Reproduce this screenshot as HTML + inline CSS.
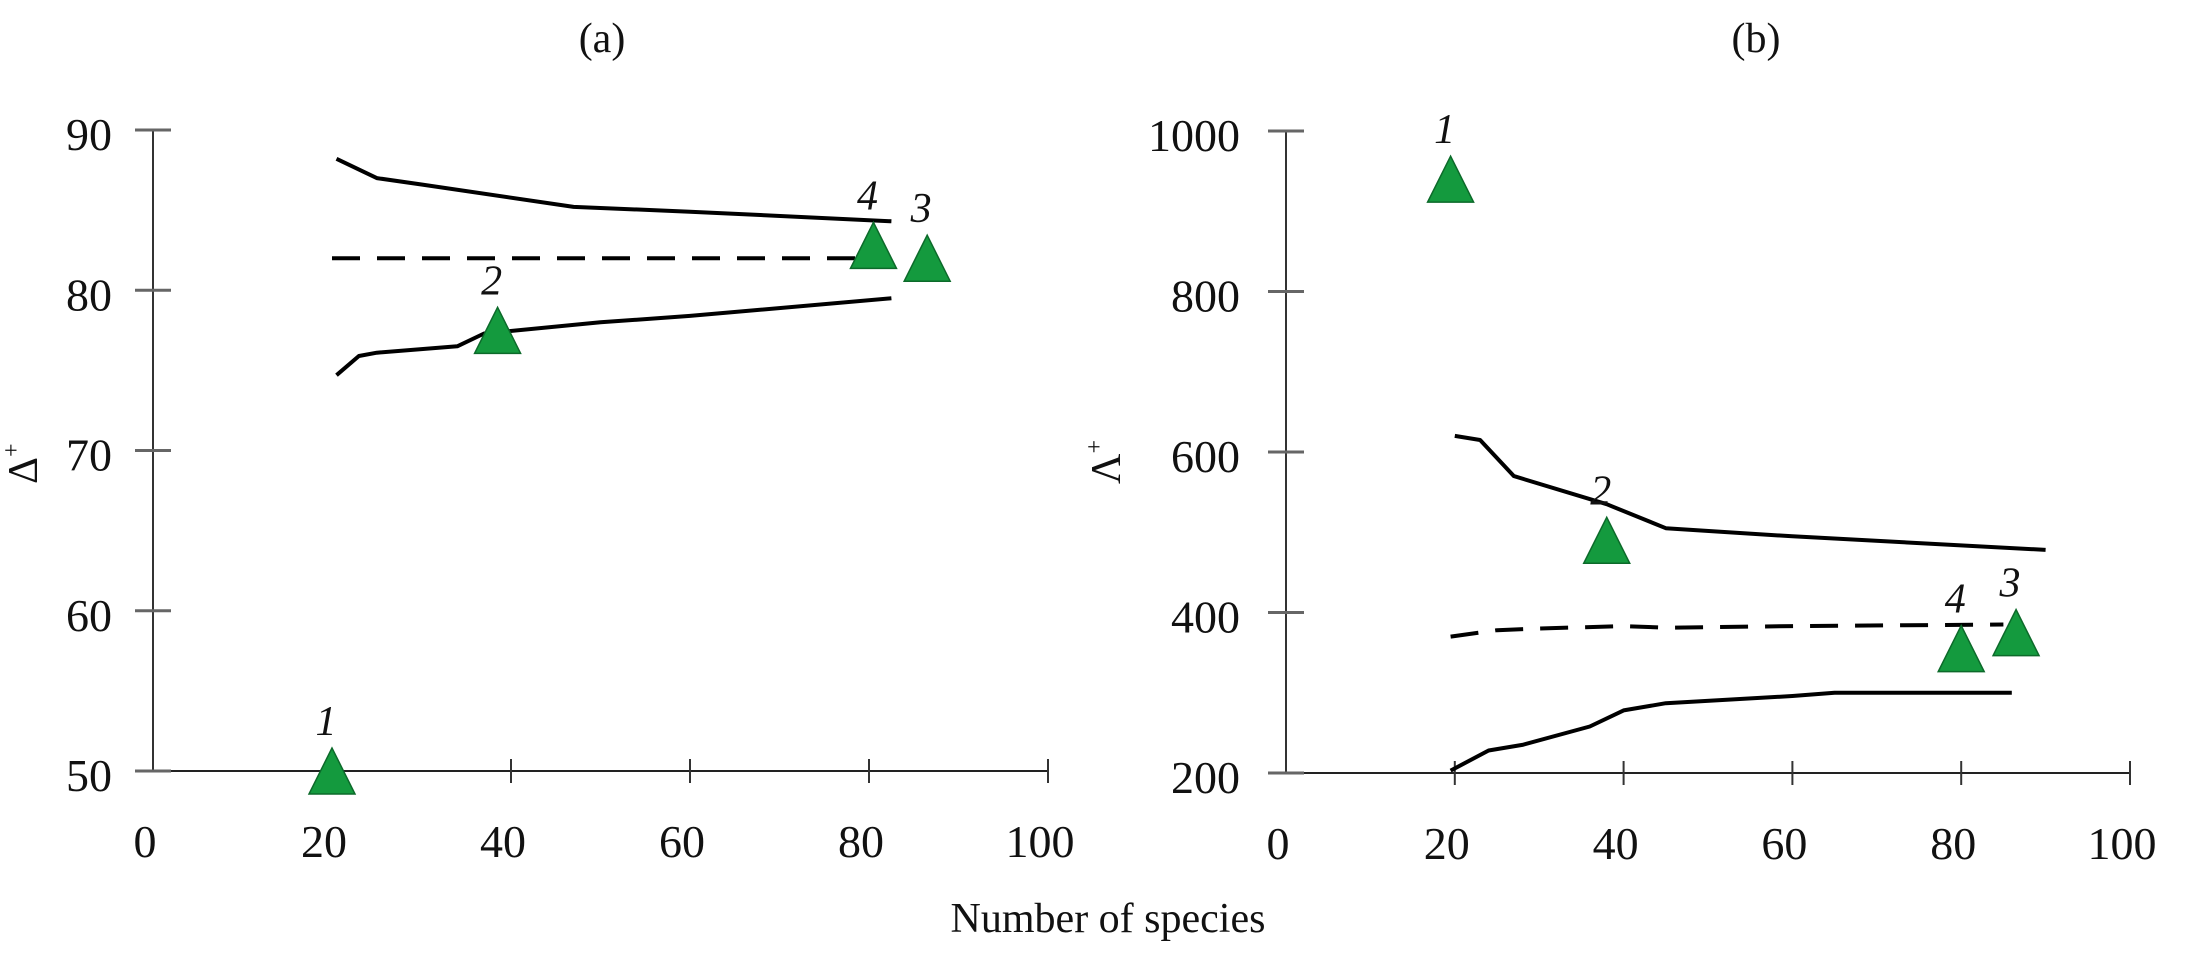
<!DOCTYPE html>
<html><head><meta charset="utf-8">
<style>
html,body{margin:0;padding:0;background:#fff;}
svg{display:block;font-family:"Liberation Serif",serif;}
</style></head>
<body>
<svg id="chart" width="2185" height="963" xmlns="http://www.w3.org/2000/svg"></svg>
<script>
// Panel (a) data
const xTicks = [0, 20, 40, 60, 80, 100];
const aYTicks = [50, 60, 70, 80, 90];
const aUpperX = [20.5, 25, 30, 47, 60, 82.5];
const aUpperY = [88.2, 87.0, 86.6, 85.2, 84.9, 84.3];
const aMeanX = [20, 82];
const aMeanY = [82, 82];
const aLowerX = [20.5, 23, 25, 34, 37, 50, 60, 82.5];
const aLowerY = [74.7, 75.9, 76.1, 76.5, 77.3, 78.0, 78.4, 79.5];
const aPointX = [20, 38.5, 86.5, 80.5];
const aPointY = [50, 77.5, 82.0, 82.8];
const aPointLabels = ["1", "2", "3", "4"];
// Panel (b) data
const bYTicks = [200, 400, 600, 800, 1000];
const bUpperX = [20, 23, 27, 38, 45, 60, 90];
const bUpperY = [620, 615, 570, 535, 505, 495, 478];
const bMeanX = [19.5, 25, 30, 40, 45, 60, 85];
const bMeanY = [370, 378, 380, 383, 381, 383, 385];
const bLowerX = [19.5, 24, 28, 36, 40, 45, 60, 65, 86];
const bLowerY = [203, 228, 235, 258, 278, 287, 296, 300, 300];
const bPointX = [19.5, 38, 86.5, 80];
const bPointY = [940, 490, 375, 355];
const bPointLabels = ["1", "2", "3", "4"];

const NS = "http://www.w3.org/2000/svg";
const svg = document.getElementById('chart');
function mk(tag, attrs, parent){
  const e = document.createElementNS(NS, tag);
  for (const k in attrs) e.setAttribute(k, attrs[k]);
  (parent||svg).appendChild(e);
  return e;
}

function panel(cfg){
  const g = mk('g', {});
  
  
  const sx = v => cfg.x0 + (v - 0) / 100 * (cfg.x1 - cfg.x0);
  const sy = v => cfg.y0 - (v - cfg.ymin) / (cfg.ymax - cfg.ymin) * (cfg.y0 - cfg.y1);
  const ax = mk('line', {x1:cfg.x0, y1:cfg.y0, x2:cfg.x1, y2:cfg.y0, stroke:'#222', 'stroke-width':2}, g);
  
  
  const ay = mk('line', {x1:cfg.x0, y1:cfg.y0, x2:cfg.x0, y2:cfg.y1, stroke:'#333', 'stroke-width':2}, g);
  
  
  xTicks.forEach(t => {
    if (t > 0) {
      const tk = mk('line', {x1:sx(t), y1:cfg.y0-12, x2:sx(t), y2:cfg.y0+12, stroke:'#333', 'stroke-width':2}, g);
      
      
    }
    const tl = mk('text', {x:sx(t)-8, y:cfg.y0+86, 'font-size':46, 'text-anchor':'middle', fill:'#111'}, g);
    tl.textContent = t;
    
    
  });
  cfg.yTicks.forEach(t => {
    const tk = mk('line', {x1:cfg.x0-18, y1:sy(t), x2:cfg.x0+18, y2:sy(t), stroke:'#666', 'stroke-width':3}, g);
    
    
    const tl = mk('text', {x:cfg.x0-cfg.labOff, y:sy(t)+20, 'font-size':46, 'text-anchor':'end', fill:'#111'}, g);
    tl.textContent = t;
    
    
  });
  function line(xs, ys, name, dash){
    const d = xs.map((x,i)=>(i?'L':'M')+sx(x).toFixed(1)+','+sy(ys[i]).toFixed(1)).join(' ');
    const p = mk('path', {d:d, fill:'none', stroke:'#000', 'stroke-width':4, 'stroke-linejoin':'round'}, g);
    if (dash) p.setAttribute('stroke-dasharray', '28,17');
    
    
  }
  line(cfg.upX, cfg.upY, 'upper-limit-line', false);
  line(cfg.mX, cfg.mY, 'mean-line', true);
  line(cfg.loX, cfg.loY, 'lower-limit-line', false);
  cfg.pX.forEach((x,i) => {
    const cx = sx(x), cy = sy(cfg.pY[i]);
    const tri = mk('polygon', {points:`${cx},${cy-23} ${cx-23},${cy+23} ${cx+23},${cy+23}`, fill:'#149a3e', stroke:'#0c6a2a', 'stroke-width':1.5}, g);
    
    
    const lb = mk('text', {x:cx-6, y:cy-36, 'font-size':42, 'font-style':'italic', 'text-anchor':'middle', fill:'#111'}, g);
    lb.textContent = cfg.pL[i];
    
    
  });
  const ttl = mk('text', {x:cfg.titleX, y:52, 'font-size':42, 'text-anchor':'middle', fill:'#111'}, g);
  ttl.textContent = cfg.title;
  
  
  const yl = mk('text', {x:0, y:0, 'font-size':42, 'text-anchor':'start', fill:'#111', transform:`translate(${cfg.ylX},${cfg.ylY}) rotate(-90)`}, g);
  yl.innerHTML = cfg.ylab + '<tspan dy="-18" font-size="24">+</tspan>';
  
  
}

panel({name:'panel-a', x0:153, x1:1048, y0:771, y1:130, ymin:50, ymax:90, yTicks:aYTicks, labOff:41,
  upX:aUpperX, upY:aUpperY, mX:aMeanX, mY:aMeanY, loX:aLowerX, loY:aLowerY,
  pX:aPointX, pY:aPointY, pL:aPointLabels, title:'(a)', titleX:602, ylab:'Δ', ylX:37, ylY:484});
panel({name:'panel-b', x0:1286, x1:2130, y0:773, y1:131, ymin:200, ymax:1000, yTicks:bYTicks, labOff:46,
  upX:bUpperX, upY:bUpperY, mX:bMeanX, mY:bMeanY, loX:bLowerX, loY:bLowerY,
  pX:bPointX, pY:bPointY, pL:bPointLabels, title:'(b)', titleX:1756, ylab:'Λ', ylX:1120, ylY:484});

const xt = mk('text', {x:1108, y:932, 'font-size':42, 'text-anchor':'middle', fill:'#111'});
xt.textContent = 'Number of species';


</script>
</body></html>
